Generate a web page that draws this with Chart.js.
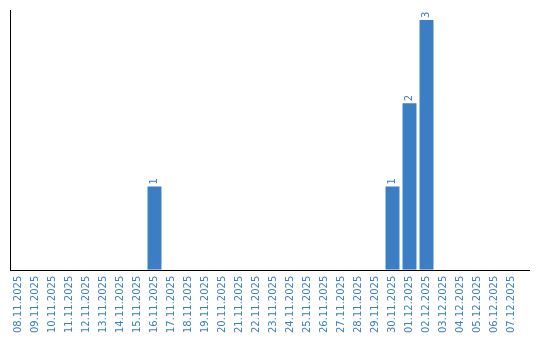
<!DOCTYPE html>
<html>
<head>
<meta charset="utf-8">
<script src="https://cdn.jsdelivr.net/npm/chart.js@4"></script>
<style>
  html, body { margin: 0; padding: 0; background: #fff; }
  #wrap { width: 540px; height: 340px; }
</style>
</head>
<body>
<div id="wrap"><canvas id="chart" width="540" height="340"></canvas></div>
<script>
// Dates shown on the x axis
const days = [
  "08.11.2025", "09.11.2025", "10.11.2025", "11.11.2025", "12.11.2025", "13.11.2025",
  "14.11.2025", "15.11.2025", "16.11.2025", "17.11.2025", "18.11.2025", "19.11.2025",
  "20.11.2025", "21.11.2025", "22.11.2025", "23.11.2025", "24.11.2025", "25.11.2025",
  "26.11.2025", "27.11.2025", "28.11.2025", "29.11.2025", "30.11.2025", "01.12.2025",
  "02.12.2025", "03.12.2025", "04.12.2025", "05.12.2025", "06.12.2025", "07.12.2025"
];
// Count per day
const counts = [
  0, 0, 0, 0, 0, 0,
  0, 0, 1, 0, 0, 0,
  0, 0, 0, 0, 0, 0,
  0, 0, 0, 0, 1, 2,
  3, 0, 0, 0, 0, 0
];

const blue = "rgb(59, 126, 195)";

// rotated value above each non-zero bar, plus the long x axis line
const barValues = {
  id: "barValues",
  afterDatasetsDraw(chart) {
    const ctx = chart.ctx;
    const meta = chart.getDatasetMeta(0);
    ctx.save();
    ctx.font = "10px 'DejaVu Sans'";
    ctx.fillStyle = blue;
    ctx.textAlign = "left";
    ctx.textBaseline = "middle";
    meta.data.forEach((bar, i) => {
      if (!counts[i]) return;
      ctx.save();
      ctx.translate(bar.x, bar.y - 2);
      ctx.rotate(-Math.PI / 2);
      ctx.fillText(String(counts[i]), 0, 0);
      ctx.restore();
    });
    const area = chart.chartArea;
    ctx.strokeStyle = "#000";
    ctx.lineWidth = 1;
    ctx.beginPath();
    ctx.moveTo(area.left, Math.round(area.bottom) + 0.5);
    ctx.lineTo(area.right + 10, Math.round(area.bottom) + 0.5);
    ctx.stroke();
    ctx.restore();
  }
};

new Chart(document.getElementById("chart"), {
  type: "bar",
  data: {
    labels: days,
    datasets: [{
      data: counts,
      backgroundColor: blue,
      borderWidth: 0,
      barPercentage: 0.82,
      categoryPercentage: 1
    }]
  },
  options: {
    responsive: false,
    animation: false,
    layout: { padding: { left: 10, right: 20, top: 10, bottom: 1 } },
    plugins: {
      legend: { display: false },
      tooltip: { enabled: false }
    },
    scales: {
      x: {
        grid: { display: false, drawTicks: false },
        border: { display: false },
        ticks: {
          color: blue,
          font: { family: "'DejaVu Sans'", size: 10 },
          minRotation: 90,
          maxRotation: 90,
          autoSkip: false,
          padding: 6
        }
      },
      y: {
        min: 0,
        max: 3.12,
        grid: { display: false, drawTicks: false },
        border: { display: true, color: "#000", width: 1 },
        ticks: { display: false }
      }
    }
  },
  plugins: [barValues]
});
</script>
</body>
</html>
